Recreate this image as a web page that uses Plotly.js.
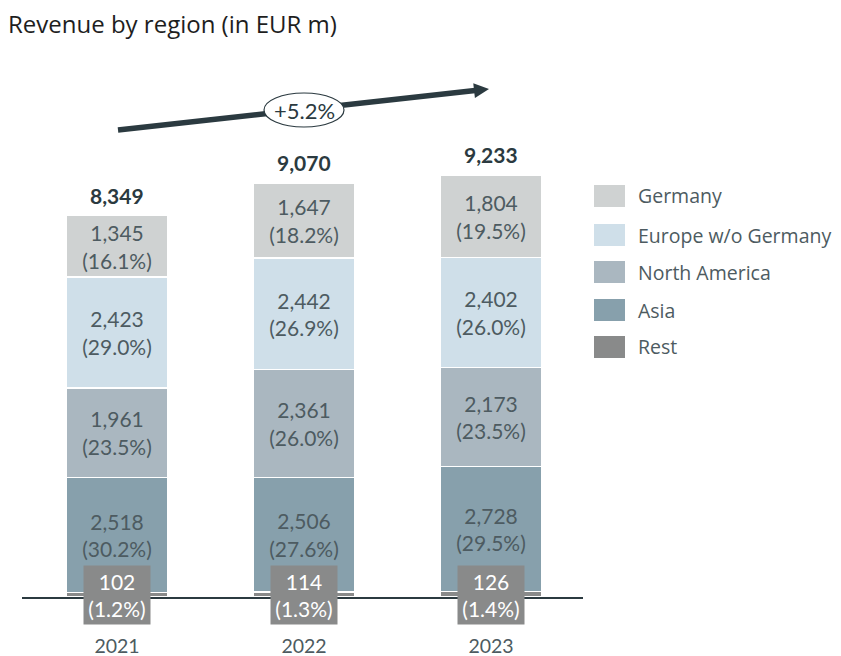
<!DOCTYPE html>
<html><head><meta charset="utf-8">
<script src="https://cdn.plot.ly/plotly-3.0.1.min.js"></script>
<style>html,body{margin:0;padding:0;background:#fff}#chart{width:841px;height:656px}</style>
</head><body><div id="chart"></div>
<script>
const years = ['2021', '2022', '2023'];
const seriesNames = ['Rest', 'Asia', 'North America', 'Europe w/o Germany', 'Germany'];
const restVals = [102, 114, 126];
const asiaVals = [2518, 2506, 2728];
const naVals = [1961, 2361, 2173];
const europeVals = [2423, 2442, 2402];
const germanyVals = [1345, 1647, 1804];
const restPct = ['1.2', '1.3', '1.4'];
const asiaPct = ['30.2', '27.6', '29.5'];
const naPct = ['23.5', '26.0', '23.5'];
const europePct = ['29.0', '26.9', '26.0'];
const germanyPct = ['16.1', '18.2', '19.5'];
const totals = [8349, 9070, 9233];
const growthLabel = '+5.2%';
const colors = ['#898a8a', '#87a0ac', '#aab7c0', '#cfdfe9', '#cfd2d2'];

const FONT = 'Lato, "Open Sans", sans-serif';
const TFONT = '"Open Sans", Lato, sans-serif';
const DARK = '#2b3a40';
const MID = '#4d5b61';
const fmt = v => v.toLocaleString('en-US');

const vals = [restVals, asiaVals, naVals, europeVals, germanyVals];
const pcts = [restPct, asiaPct, naPct, europePct, germanyPct];

// plot geometry (pixels)
const L = 22, R = 583, T = 60, B = 597;
const px = x => (x - L) / (R - L);
const py = y => (B - y) / (B - T);

const traces = vals.map((v, i) => ({
  type: 'bar', x: years, y: v, name: seriesNames[i],
  width: 0.54,
  marker: {color: colors[i], line: {color: '#ffffff', width: 1.5}},
  text: i === 0 ? null : v.map((d, j) => fmt(d) + '<br>(' + pcts[i][j] + '%)'),
  textposition: i === 0 ? 'none' : 'inside',
  insidetextanchor: 'middle',
  textangle: 0,
  constraintext: 'none',
  textfont: {family: FONT, size: 21, color: MID},
  hoverinfo: 'skip'
}));

const annotations = [];
years.forEach((yr, j) => {
  annotations.push({x: j, y: totals[j], xref: 'x', yref: 'y', text: '<b>' + fmt(totals[j]) + '</b>',
    showarrow: false, xanchor: 'center', yanchor: 'bottom', yshift: 6, font: {family: FONT, size: 21, color: DARK}});
  annotations.push({x: j, y: 0, xref: 'x', yref: 'y', text: fmt(restVals[j]) + '<br>(' + restPct[j] + '%)',
    showarrow: false, xanchor: 'center', yanchor: 'middle', yshift: 2, bgcolor: colors[0], width: 64, height: 56,
    font: {family: FONT, size: 21, color: '#ffffff'}});
});
annotations.push({x: px(304), y: py(110), xref: 'paper', yref: 'paper', xanchor: 'center', yanchor: 'middle',
  text: growthLabel, showarrow: false, font: {family: FONT, size: 22, color: DARK}});

const legendOrder = [4, 3, 2, 1, 0];
const legendY = [196, 235, 272, 310, 347];
const shapes = [];
const tail = [118, 130], tip = [489, 89];
const ux = tip[0] - tail[0], uy = tip[1] - tail[1];
const len = Math.hypot(ux, uy), u = [ux / len, uy / len], p = [-u[1], u[0]];
const hl = 15, hw = 7.5;
const bc = [tip[0] - hl * u[0], tip[1] - hl * u[1]];
const P = (x, y) => px(x) + ',' + py(y);
shapes.push({type: 'path', xref: 'paper', yref: 'paper', layer: 'above',
  path: 'M' + P(tail[0], tail[1]) + ' L' + P(bc[0] + u[0], bc[1] + u[1]),
  line: {color: DARK, width: 5.5}});
shapes.push({type: 'path', xref: 'paper', yref: 'paper', layer: 'above',
  path: 'M' + P(tip[0], tip[1]) + ' L' + P(bc[0] + hw * p[0], bc[1] + hw * p[1]) + ' L' + P(bc[0] - hw * p[0], bc[1] - hw * p[1]) + ' Z',
  fillcolor: DARK, line: {color: DARK, width: 0}});
shapes.push({type: 'circle', xref: 'paper', yref: 'paper', layer: 'above',
  x0: px(264), x1: px(344), y0: py(127), y1: py(93),
  fillcolor: '#ffffff', line: {color: DARK, width: 1.2}});

legendOrder.forEach((k, r) => {
  const cy = legendY[r];
  shapes.push({type: 'rect', xref: 'paper', yref: 'paper', x0: px(594), x1: px(625), y0: py(cy + 11), y1: py(cy - 11),
    fillcolor: colors[k], line: {width: 0}});
  annotations.push({x: px(636), y: py(cy), xref: 'paper', yref: 'paper', xanchor: 'left', yanchor: 'middle',
    text: seriesNames[k], showarrow: false, font: {family: TFONT, size: 19.5, color: MID}});
});

const layout = {
  width: 841, height: 656,
  margin: {l: L, r: 841 - R, t: T, b: 656 - B},
  paper_bgcolor: '#ffffff', plot_bgcolor: '#ffffff',
  barmode: 'stack', showlegend: false,
  title: {text: 'Revenue by region (in EUR m)', x: 8 / 841, xref: 'container', xanchor: 'left',
    y: 1 - 25 / 656, yref: 'container', yanchor: 'middle', font: {family: TFONT, size: 24, color: '#1e1e1e'}},
  xaxis: {type: 'category', range: [-0.508, 2.492], showline: true, linecolor: DARK, linewidth: 1.5,
    ticks: 'outside', ticklen: 31, tickcolor: 'rgba(0,0,0,0)', showgrid: false, zeroline: false,
    tickfont: {family: FONT, size: 19.5, color: MID}},
  yaxis: {range: [0, 11758], visible: false, showgrid: false, zeroline: false},
  annotations: annotations, shapes: shapes
};
Plotly.newPlot('chart', traces, layout, {displayModeBar: false, staticPlot: true});
</script></body></html>
